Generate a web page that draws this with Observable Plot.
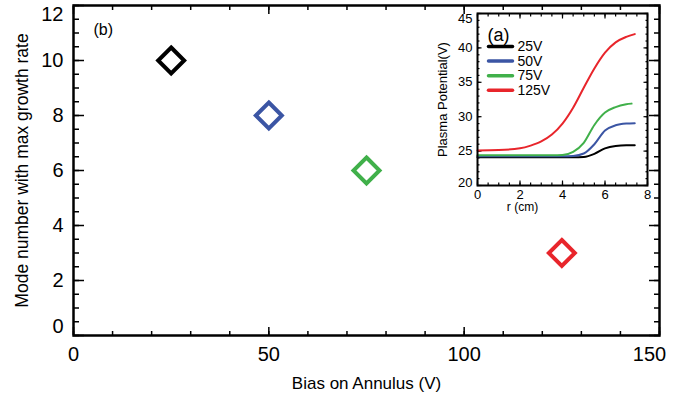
<!DOCTYPE html>
<html>
<head>
<meta charset="utf-8">
<script src="https://cdn.jsdelivr.net/npm/d3@7"></script>
<script src="https://cdn.jsdelivr.net/npm/@observablehq/plot@0.6"></script>
<style>
  html, body { margin: 0; padding: 0; background: white; }
  #wrap { position: relative; width: 686px; height: 400px; }
  #inset { position: absolute; left: 425px; top: 0px; }
</style>
</head>
<body>
<div id="wrap"><div id="main"></div><div id="inset"></div></div>
<script>
// ---- Main panel (b) data ----
const biasVoltages = [25, 50, 75, 125];
const modeNumbers = [10, 8, 6, 3];
const seriesColors = ["#000000", "#3b55a4", "#40b04a", "#e8252b"];
const seriesLabels = ["25V", "50V", "75V", "125V"];
const xMajorTicks = [0, 50, 100, 150];
const yMajorTicks = [0, 2, 4, 6, 8, 10, 12];

// ---- Inset panel (a) data: plasma potential vs radius ----
const radius = [0, 1, 2, 2.5, 3, 3.5, 4, 4.5, 5, 5.5, 6, 6.5, 7, 7.4];
const pot25  = [24.1, 24.1, 24.1, 24.1, 24.1, 24.1, 24.1, 24.1, 24.15, 24.6, 25.4, 25.75, 25.85, 25.85];
const pot50  = [24.25, 24.25, 24.25, 24.25, 24.25, 24.25, 24.25, 24.3, 24.65, 26.0, 28.0, 28.75, 29.0, 29.05];
const pot75  = [24.4, 24.4, 24.4, 24.4, 24.4, 24.4, 24.45, 24.9, 26.2, 28.8, 30.6, 31.4, 31.8, null];
const pot125 = [25.1, 25.15, 25.4, 25.8, 26.4, 27.4, 29.0, 31.3, 34.2, 37.0, 39.3, 40.8, 41.6, 42.0];
const r75End = 7.25;
const pot75End = 31.9;
const insetXTicks = [0, 2, 4, 6, 8];
const insetYTicks = [20, 25, 30, 35, 40, 45];

const mainFont = "Liberation Sans, Arial, sans-serif";

const points = biasVoltages.map((b, i) => ({bias: b, mode: modeNumbers[i], color: seriesColors[i]}));

const xMinor = d3.range(0, 151, 10);
const yMinor = d3.range(0, 12.01, 0.5);

const mainPlot = Plot.plot({
  width: 686,
  height: 400,
  marginLeft: 73,
  marginRight: 27,
  marginTop: 5,
  marginBottom: 65,
  style: {fontFamily: mainFont, background: "white"},
  x: {domain: [0, 150]},
  y: {domain: [0, 12]},
  marks: [
    // inward ticks, all four sides
    Plot.axisX({anchor: "bottom", ticks: xMinor, tickSize: -4, tickFormat: () => "", label: null, strokeWidth: 1.5}),
    Plot.axisX({anchor: "bottom", ticks: xMajorTicks, tickSize: -8, tickFormat: () => "", label: null, strokeWidth: 1.5}),
    Plot.axisX({anchor: "top", ticks: xMinor, tickSize: -4, tickFormat: () => "", label: null, strokeWidth: 1.5}),
    Plot.axisX({anchor: "top", ticks: xMajorTicks, tickSize: -8, tickFormat: () => "", label: null, strokeWidth: 1.5}),
    Plot.axisY({anchor: "left", ticks: yMinor, tickSize: -6, tickFormat: () => "", label: null, strokeWidth: 1.5}),
    Plot.axisY({anchor: "left", ticks: yMajorTicks, tickSize: -11, tickFormat: () => "", label: null, strokeWidth: 1.5}),
    Plot.axisY({anchor: "right", ticks: yMinor, tickSize: -6, tickFormat: () => "", label: null, strokeWidth: 1.5}),
    Plot.axisY({anchor: "right", ticks: yMajorTicks, tickSize: -11, tickFormat: () => "", label: null, strokeWidth: 1.5}),
    // tick labels
    Plot.axisX({anchor: "bottom", ticks: xMajorTicks.slice(0, 3), tickSize: 0, tickPadding: 11, fontSize: 20, label: null}),
    Plot.axisX({anchor: "bottom", ticks: xMajorTicks.slice(3), tickSize: 0, tickPadding: 11, dx: -10, fontSize: 20, label: null}),
    Plot.axisY({anchor: "left", ticks: yMajorTicks.slice(1, 6), tickSize: 0, tickPadding: 10, fontSize: 20, label: null}),
    Plot.axisY({anchor: "left", ticks: yMajorTicks.slice(0, 1), tickSize: 0, tickPadding: 10, dy: -9, fontSize: 20, label: null}),
    Plot.axisY({anchor: "left", ticks: yMajorTicks.slice(6), tickSize: 0, tickPadding: 10, dy: 9, fontSize: 20, label: null}),
    // axis titles
    Plot.text(["Bias on Annulus (V)"], {frameAnchor: "bottom", dy: 48, lineAnchor: "middle", textAnchor: "middle", fontSize: 17, text: d => d}),
    Plot.text(["Mode number with max growth rate"], {frameAnchor: "left", dx: -51, rotate: -90, textAnchor: "middle", lineAnchor: "middle", fontSize: 17.5, text: d => d}),
    Plot.text(["(b)"], {frameAnchor: "top-left", dx: 20, dy: 24, textAnchor: "start", lineAnchor: "middle", fontSize: 16, text: d => d}),
    Plot.frame({strokeWidth: 2.5}),
    Plot.dot(points, {x: "bias", y: "mode", symbol: "diamond2", r: 11.7, stroke: "color", strokeWidth: 4, fill: "none"})
  ]
});
document.getElementById("main").appendChild(mainPlot);

// ---- Inset ----
const insetRows = [];
const series = [pot25, pot50, pot75, pot125];
series.forEach((arr, s) => {
  radius.forEach((r, i) => {
    if (arr[i] != null) insetRows.push({r, v: arr[i], s: seriesLabels[s], color: seriesColors[s]});
  });
});
insetRows.push({r: r75End, v: pot75End, s: seriesLabels[2], color: seriesColors[2]});
insetRows.sort((a, b) => a.s === b.s ? a.r - b.r : 0);

const insetFont = "Liberation Sans, Arial, sans-serif";
const ixMinor = d3.range(0, 8.01, 0.5);
const iyMinor = d3.range(20, 45.01, 1);

const legendMarks = seriesLabels.flatMap((lab, i) => [
  Plot.vector([lab], {
    frameAnchor: "top-left", dx: 11, dy: 33 + i * 14.6, rotate: 90, length: 24, anchor: "start",
    stroke: seriesColors[i], strokeWidth: 3.5,
    shape: {draw(context, l) { context.moveTo(0, 0); context.lineTo(0, -l); }}
  }),
  Plot.text([lab], {frameAnchor: "top-left", dx: 40, dy: 33 + i * 14.6, textAnchor: "start", lineAnchor: "middle", fontSize: 14, text: d => d})
]);

const insetPlot = Plot.plot({
  width: 240,
  height: 215,
  marginLeft: 52,
  marginRight: 18,
  marginTop: 13,
  marginBottom: 30,
  style: {fontFamily: insetFont, background: "transparent"},
  x: {domain: [0, 8]},
  y: {domain: [20, 45]},
  marks: [
    Plot.frame({fill: "white", stroke: "none"}),
    Plot.axisX({anchor: "bottom", ticks: ixMinor, tickSize: -2.5, tickFormat: () => "", label: null, strokeWidth: 1.2}),
    Plot.axisX({anchor: "bottom", ticks: insetXTicks, tickSize: -4.5, tickFormat: () => "", label: null, strokeWidth: 1.2}),
    Plot.axisX({anchor: "top", ticks: ixMinor, tickSize: -2.5, tickFormat: () => "", label: null, strokeWidth: 1.2}),
    Plot.axisX({anchor: "top", ticks: insetXTicks, tickSize: -4.5, tickFormat: () => "", label: null, strokeWidth: 1.2}),
    Plot.axisY({anchor: "left", ticks: iyMinor, tickSize: -2.5, tickFormat: () => "", label: null, strokeWidth: 1.2}),
    Plot.axisY({anchor: "left", ticks: insetYTicks, tickSize: -4.5, tickFormat: () => "", label: null, strokeWidth: 1.2}),
    Plot.axisY({anchor: "right", ticks: iyMinor, tickSize: -2.5, tickFormat: () => "", label: null, strokeWidth: 1.2}),
    Plot.axisY({anchor: "right", ticks: insetYTicks, tickSize: -4.5, tickFormat: () => "", label: null, strokeWidth: 1.2}),
    Plot.axisX({anchor: "bottom", ticks: insetXTicks, tickSize: 0, tickPadding: 4, fontSize: 13, label: null}),
    Plot.axisY({anchor: "left", ticks: insetYTicks.slice(1, 5), tickSize: 0, tickPadding: 5, fontSize: 13, label: null}),
    Plot.axisY({anchor: "left", ticks: insetYTicks.slice(0, 1), tickSize: 0, tickPadding: 5, dy: -3, fontSize: 13, label: null}),
    Plot.axisY({anchor: "left", ticks: insetYTicks.slice(5), tickSize: 0, tickPadding: 5, dy: 5, fontSize: 13, label: null}),
    Plot.text(["Plasma Potential(V)"], {frameAnchor: "left", dx: -35, rotate: -90, textAnchor: "middle", lineAnchor: "middle", fontSize: 13, text: d => d}),
    Plot.text(["r (cm)"], {frameAnchor: "bottom", dx: -40, dy: 22, textAnchor: "middle", lineAnchor: "middle", fontSize: 12, text: d => d}),
    Plot.text(["(a)"], {frameAnchor: "top-left", dx: 10, dy: 22, textAnchor: "start", lineAnchor: "middle", fontSize: 18, text: d => d}),
    ...legendMarks,
    Plot.line(insetRows, {x: "r", y: "v", z: "s", stroke: "color", strokeWidth: 2, curve: "monotone-x"}),
    Plot.frame({strokeWidth: 2})
  ]
});
document.getElementById("inset").appendChild(insetPlot);
</script>
</body>
</html>
